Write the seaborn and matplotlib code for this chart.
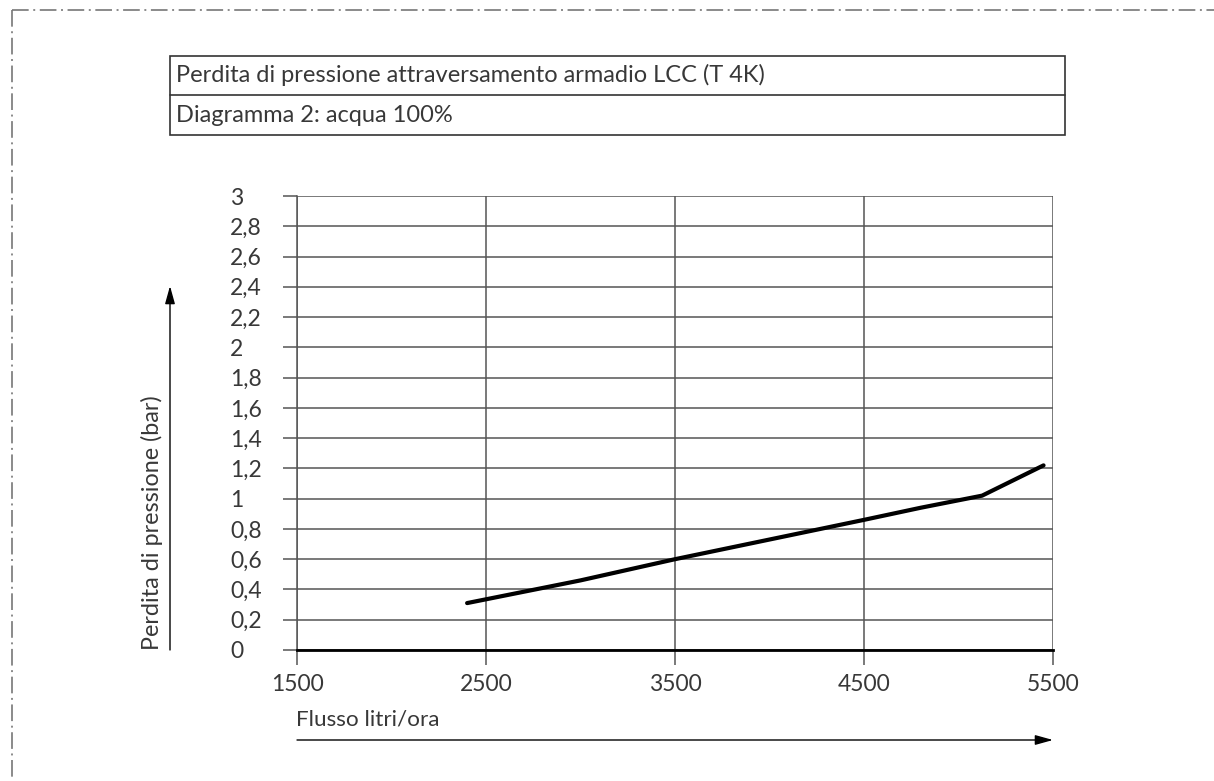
import matplotlib
matplotlib.use("Agg")
import matplotlib.pyplot as plt
import matplotlib.transforms as mtransforms
from matplotlib.lines import Line2D
from matplotlib.patches import Rectangle, FancyArrowPatch
import pandas as pd
import seaborn as sns

# Pressure drop curve (flow l/h -> bar)
flow = [2400, 3000, 3500, 4000, 4500, 4800, 5125, 5450]
pressure = [0.31, 0.46, 0.60, 0.73, 0.86, 0.94, 1.02, 1.22]

x_ticks = [1500, 2500, 3500, 4500, 5500]
y_ticks = [0, 0.2, 0.4, 0.6, 0.8, 1, 1.2, 1.4, 1.6, 1.8, 2, 2.2, 2.4, 2.6, 2.8, 3]
y_tick_labels = ["0", "0,2", "0,4", "0,6", "0,8", "1", "1,2", "1,4", "1,6", "1,8",
                 "2", "2,2", "2,4", "2,6", "2,8", "3"]

title_line1 = "Perdita di pressione attraversamento armadio LCC (T 4K)"
title_line2 = "Diagramma 2: acqua 100%"
x_label = "Flusso litri/ora"
y_label = "Perdita di pressione (bar)"

sns.set_theme(style="white")
plt.rcParams["font.family"] = ["Lato", "DejaVu Sans"]
plt.rcParams["lines.scale_dashes"] = False
plt.rcParams["ytick.left"] = True
plt.rcParams["ytick.direction"] = "out"

W, H = 1214, 781
fig = plt.figure(figsize=(W / 100, H / 100), dpi=100)


def fx(x):
    return x / W


def fy(y):
    return 1 - y / H


grid_col = "#555555"
text_col = "#383838"
fs = 16.5

ax = fig.add_axes([fx(297), fy(650), fx(1053) - fx(297), fy(196) - fy(650)])

df = pd.DataFrame({"flow": flow, "pressure": pressure})
sns.lineplot(data=df, x="flow", y="pressure", ax=ax, color="black",
             linewidth=3.0, solid_capstyle="round", solid_joinstyle="round",
             zorder=5)

ax.set_xlim(1500, 5500)
ax.set_ylim(0, 3)
ax.set_xticks(x_ticks)
ax.set_xticklabels([str(v) for v in x_ticks])
ax.set_yticks(y_ticks)
ax.set_yticklabels(y_tick_labels)
ax.set_xlabel("")
ax.set_ylabel("")

ax.grid(True, color=grid_col, linewidth=1.1)
for side in ("top", "right"):
    ax.spines[side].set_visible(False)
ax.spines["left"].set_color(grid_col)
ax.spines["left"].set_linewidth(1.1)
ax.spines["bottom"].set_color("black")
ax.spines["bottom"].set_linewidth(2.0)
ax.spines["bottom"].set_zorder(4)

# vertical grid lines run on below the zero line as tick marks
tick_trans = mtransforms.blended_transform_factory(ax.transData, ax.transAxes)
ax.vlines(x_ticks, -0.033, 0, transform=tick_trans, colors=grid_col,
          linewidth=1.1, clip_on=False)

ax.tick_params(axis="x", which="major", bottom=False, length=0,
               pad=17, labelsize=fs, labelcolor=text_col)
ax.tick_params(axis="y", which="major", left=True, length=10.1, width=1.1,
               color=grid_col, pad=38, labelsize=fs, labelcolor=text_col)
for lab in ax.get_yticklabels():
    lab.set_horizontalalignment("left")

# Axis captions with direction arrows
fig.text(fx(152), fy(650), y_label, rotation=90, ha="center", va="bottom",
         fontsize=16.8, color=text_col)
fig.text(fx(296), fy(720), x_label, ha="left", va="center",
         fontsize=16.2, color=text_col)

arrow_kw = dict(arrowstyle="-|>,head_length=0.9,head_width=0.25", color="black",
                lw=1.0, shrinkA=0, shrinkB=0, mutation_scale=12)
fig.add_artist(FancyArrowPatch(
    (fx(170), fy(650)), (fx(170), fy(286)), transform=fig.transFigure, **arrow_kw))
fig.add_artist(FancyArrowPatch(
    (fx(297), fy(740)), (fx(1053), fy(740)), transform=fig.transFigure, **arrow_kw))

# Title block
box_col = "#333333"
fig.add_artist(Rectangle((fx(170), fy(135)), fx(1065) - fx(170), fy(56) - fy(135),
                         transform=fig.transFigure, fill=False, edgecolor=box_col,
                         linewidth=1.2))
fig.add_artist(Line2D([fx(170), fx(1065)], [fy(95), fy(95)],
                      transform=fig.transFigure, color=box_col, linewidth=1.2))
fig.text(fx(176), fy(75), title_line1, ha="left", va="center", fontsize=17,
         color=text_col)
fig.text(fx(176), fy(115), title_line2, ha="left", va="center", fontsize=17,
         color=text_col)

# Dash-dot frame
frame_kw = dict(transform=fig.transFigure, color="#777777", linewidth=1.2,
                dashes=(12, 3.3, 1.4, 3.3))
fig.add_artist(Line2D([fx(12), fx(1214)], [fy(10), fy(10)], **frame_kw))
fig.add_artist(Line2D([fx(12), fx(12)], [fy(10), fy(781)], **frame_kw))

fig.savefig("out.png", dpi=100, facecolor="white")
